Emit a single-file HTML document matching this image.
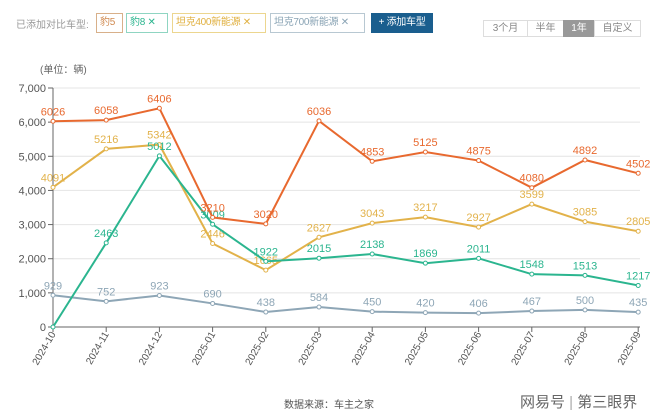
<!DOCTYPE html>
<html><head><meta charset="utf-8"><style>
body{margin:0;width:660px;height:417px;background:#fff;font-family:"Liberation Sans","Noto Sans CJK SC",sans-serif;overflow:hidden;position:relative}
.tag{position:absolute;top:13px;height:20px;line-height:18px;font-size:10px;border:1px solid;padding:0 3px;box-sizing:border-box;white-space:nowrap;overflow:hidden;letter-spacing:-0.3px}
.seg{position:absolute;top:20px;height:17px;line-height:15px;font-size:10px;color:#888;border:1px solid #ddd;text-align:center;box-sizing:border-box;white-space:nowrap}
</style></head><body>
<div style="position:absolute;left:16px;top:16px;font-size:10px;color:#999;white-space:nowrap">已添加对比车型:</div>
<div class="tag" style="left:96px;width:27px;color:#d08a50;border-color:#d8b08a">豹5</div>
<div class="tag" style="left:126px;width:42px;color:#2bb58f;border-color:#8fd5c2">豹8 ✕</div>
<div class="tag" style="left:172px;width:94px;color:#e0b040;border-color:#ecd68f">坦克400新能源 ✕</div>
<div class="tag" style="left:270px;width:95px;color:#8aa4b5;border-color:#b8c8d2">坦克700新能源 ✕</div>
<div class="tag" style="left:371px;width:62px;background:#1a5e8e;color:#fff;border-color:#1a5e8e;text-align:center">+ 添加车型</div>
<div class="seg" style="left:483px;width:45px">3个月</div>
<div class="seg" style="left:527px;width:37px">半年</div>
<div class="seg" style="left:563px;width:32px;background:#999;color:#fff;border-color:#999">1年</div>
<div class="seg" style="left:594px;width:47px">自定义</div>
<svg id="c" width="660" height="417" style="position:absolute;left:0;top:0"></svg>
<div style="position:absolute;left:284px;top:396px;font-size:10px;color:#555">数据来源：车主之家</div>
<div style="position:absolute;left:520px;top:391px;font-size:15px;color:#666">网易号 <span style="color:#aaa">|</span> 第三眼界</div>
<script>
const months=["2024-10","2024-11","2024-12","2025-01","2025-02","2025-03","2025-04","2025-05","2025-06","2025-07","2025-08","2025-09"];
const yTicks=[0,1000,2000,3000,4000,5000,6000,7000];
const bao5=[6026,6058,6406,3210,3020,6036,4853,5125,4875,4080,4892,4502];
const tank400=[4091,5216,5342,2446,1665,2627,3043,3217,2927,3599,3085,2805];
const bao8=[0,2463,5012,3009,1922,2015,2138,1869,2011,1548,1513,1217];
const tank700=[929,752,923,690,438,584,450,420,406,467,500,435];
const svg=document.getElementById('c');const NS="http://www.w3.org/2000/svg";
const x=i=>53+i*53.2, y=v=>327-v*(239/7000);
function mk(t,a,p){const e=document.createElementNS(NS,t);for(const k in a)e.setAttribute(k,a[k]);(p||svg).appendChild(e);return e;}
const u=mk('text',{x:40,y:73,'font-size':10,fill:'#666'});u.textContent='(单位：辆)';


yTicks.forEach(v=>{
 const g=mk('line',{x1:53,x2:640,y1:y(v),y2:y(v),stroke:v?'#e4e4e4':'#666','stroke-width':1});
 
 
 mk('line',{x1:48,x2:53,y1:y(v),y2:y(v),stroke:'#666'});
 const t=mk('text',{x:46,y:y(v)+4,'font-size':11,fill:'#555','text-anchor':'end'});t.textContent=v.toLocaleString('en-US');
 
 
});
mk('line',{x1:53,x2:53,y1:88,y2:327,stroke:'#666'});
months.forEach((m,i)=>{
 mk('line',{x1:x(i),x2:x(i),y1:327,y2:332,stroke:'#666'});
 const t=mk('text',{x:x(i)+3,y:334,'font-size':10,fill:'#555','text-anchor':'end',transform:`rotate(-60 ${x(i)+3} 334)`});t.textContent=m;
 
 
});
function series(d,c,n){
 const p=mk('polyline',{points:d.map((v,i)=>x(i)+','+y(v)).join(' '),fill:'none',stroke:c,'stroke-width':2});
 
 
 d.forEach((v,i)=>{
  const ci=mk('circle',{cx:x(i),cy:y(v),r:2,fill:'#fff',stroke:c,'stroke-width':1});
  
  
  if(v===0)return;
  const t=mk('text',{x:x(i),y:y(v)-6,'font-size':11,fill:c,'text-anchor':'middle'});t.textContent=v;
  
  
 });
}
series(tank700,'#8ea6b6','tank700');
series(tank400,'#e2b24a','tank400');
series(bao8,'#2bb58f','bao8');
series(bao5,'#e8692f','bao5');
</script>
</body></html>
